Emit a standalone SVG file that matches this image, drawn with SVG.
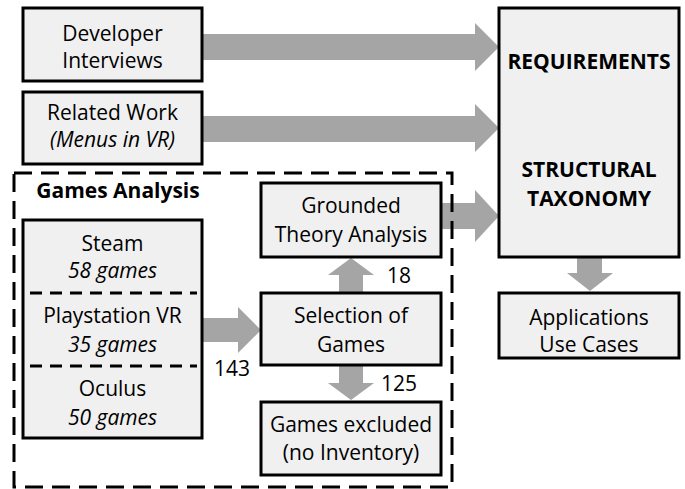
<svg xmlns="http://www.w3.org/2000/svg" width="685" height="489" viewBox="0 0 685 489">
<style>
.box{fill:#f0f0f0;stroke:#000;stroke-width:3}
.arr{fill:#a5a5a5;stroke:none}
text{font-family:"Open Sans","Liberation Sans",sans-serif;font-size:21px;fill:#000;text-anchor:middle}
.it{font-style:italic}
.b{font-weight:bold;font-size:21px}
.dash{fill:none;stroke:#000;stroke-width:3;stroke-dasharray:18 9}
.div{stroke:#000;stroke-width:3;stroke-dasharray:12 8}
</style>
<rect width="685" height="489" fill="#fff"/>
<g id="connectors">
<polygon class="arr" points="202,34 475,34 475,23 499,47 475,71 475,60 202,60"/>
<polygon class="arr" points="202,116 475,116 475,104 499,128 475,152 475,142 202,142"/>
<polygon class="arr" points="441,203 475,203 475,190 499,216 475,242 475,229 441,229"/>
<polygon class="arr" points="577,257 602,257 602,273 613,273 590,291 567,273 577,273"/>
<polygon class="arr" points="202,318 238,318 238,307 261,330 238,353 238,342 202,342"/>
<polygon class="arr" points="339,293 339,275 328,275 351,258 374,275 363,275 363,293"/>
<polygon class="arr" points="339,365 339,383 328,383 351,400 374,383 363,383 363,365"/>
<text x="232" y="376">143</text>
<text x="399" y="283">18</text>
<text x="399" y="391">125</text>
</g>
<g id="games-analysis">
<rect class="dash" x="14" y="173" width="438" height="314"/>
<text class="b" x="118" y="198">Games Analysis</text>
</g>
<g id="developer-interviews">
<rect class="box" x="23" y="8" width="179" height="73"/>
<text x="112.5" y="41">Developer</text>
<text x="112.5" y="68">Interviews</text>
</g>
<g id="related-work">
<rect class="box" x="23" y="92" width="179" height="72"/>
<text x="112.5" y="120">Related Work</text>
<text class="it" x="112.5" y="147">(Menus in VR)</text>
</g>
<g id="requirements">
<rect class="box" x="499" y="8" width="180" height="249"/>
<text class="b" x="589" y="69">REQUIREMENTS</text>
<text class="b" x="589" y="177">STRUCTURAL</text>
<text class="b" x="589" y="206">TAXONOMY</text>
</g>
<g id="applications">
<rect class="box" x="499" y="293" width="180" height="65"/>
<text x="589" y="325">Applications</text>
<text x="589" y="352">Use Cases</text>
</g>
<g id="platforms">
<rect class="box" x="23" y="220" width="179" height="218"/>
<line class="div" x1="30" y1="293" x2="197" y2="293"/>
<line class="div" x1="30" y1="366" x2="197" y2="366"/>
<text x="112.5" y="251">Steam</text>
<text class="it" x="112.5" y="278">58 games</text>
<text x="112.5" y="323">Playstation VR</text>
<text class="it" x="112.5" y="352">35 games</text>
<text x="112.5" y="396">Oculus</text>
<text class="it" x="112.5" y="425">50 games</text>
</g>
<g id="grounded-theory">
<rect class="box" x="261" y="183" width="180" height="74"/>
<text x="351" y="213">Grounded</text>
<text x="351" y="242">Theory Analysis</text>
</g>
<g id="selection">
<rect class="box" x="261" y="293" width="180" height="72"/>
<text x="351" y="323">Selection of</text>
<text x="351" y="352">Games</text>
</g>
<g id="excluded">
<rect class="box" x="261" y="402" width="180" height="73"/>
<text x="351" y="432">Games excluded</text>
<text x="351" y="460">(no Inventory)</text>
</g>
</svg>
